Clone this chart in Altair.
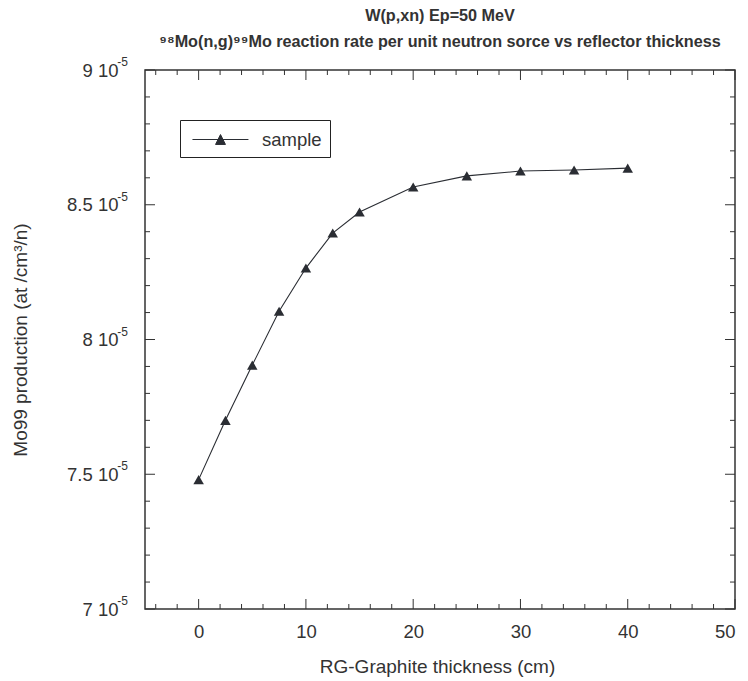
import altair as alt
import pandas as pd

# data
thickness = [0, 2.5, 5, 7.5, 10, 12.5, 15, 20, 25, 30, 35, 40]
production = [7.48e-5, 7.70e-5, 7.905e-5, 8.105e-5, 8.265e-5, 8.395e-5, 8.473e-5,
              8.566e-5, 8.607e-5, 8.625e-5, 8.629e-5, 8.636e-5]
series_name = ["sample"] * len(thickness)

x_major = [0, 10, 20, 30, 40, 50]
x_minor = [-4, -2, 2, 4, 6, 8, 12, 14, 16, 18, 22, 24, 26, 28, 32, 34, 36, 38, 42, 44, 46, 48]
y_major = [7.0e-5, 7.5e-5, 8.0e-5, 8.5e-5, 9.0e-5]
y_minor = [7.1e-5, 7.2e-5, 7.3e-5, 7.4e-5, 7.6e-5, 7.7e-5, 7.8e-5, 7.9e-5,
           8.1e-5, 8.2e-5, 8.3e-5, 8.4e-5, 8.6e-5, 8.7e-5, 8.8e-5, 8.9e-5]
y_exponent = ["-5"] * len(y_major)

W, H = 590, 539
INK = "#2a2d33"
TXT = "#333"
FONT = "Liberation Sans"

df = pd.DataFrame({"t": thickness, "p": production, "s": series_name})
xmaj = pd.DataFrame({"v": x_major})
xmin = pd.DataFrame({"v": x_minor})
ymaj = pd.DataFrame({"v": y_major, "e": y_exponent})
ymin = pd.DataFrame({"v": y_minor})

xscale = alt.Scale(domain=[-5, 50], nice=False, zero=False)
yscale = alt.Scale(domain=[7e-5, 9e-5], nice=False, zero=False)

xaxis = alt.Axis(values=x_major, ticks=False, domain=False, grid=False,
                 labelFontSize=18.5, labelPadding=13, labelColor=TXT,
                 title="RG-Graphite thickness (cm)", titleFontSize=19,
                 titleFontWeight="normal", titleColor=TXT,
                 titleX=W / 2 - 3, titleY=57, titleBaseline="middle", titleAlign="center")
yaxis = alt.Axis(values=y_major, ticks=False, domain=False, grid=False,
                 labelFontSize=18.5, labelPadding=27, labelColor=TXT,
                 labelExpr="format(datum.value*1e5, '.2~f') + ' 10'",
                 title="Mo99 production (at /cm³/n)", titleFontSize=19,
                 titleFontWeight="normal", titleColor=TXT,
                 titleX=-125, titleY=H / 2, titleAngle=-90,
                 titleBaseline="middle", titleAlign="center")

base = alt.Chart(df)

line = base.mark_line(color=INK, strokeWidth=1.1).encode(
    x=alt.X("t:Q", scale=xscale, axis=xaxis),
    y=alt.Y("p:Q", scale=yscale, axis=yaxis),
)

legend_symbol = "M-0.64,0L4.45,0M1.91,-0.45L2.36,0.45L1.46,0.45Z"
points = base.mark_point(shape="triangle-up", filled=True, size=110, opacity=1).encode(
    x=alt.X("t:Q", scale=xscale),
    y=alt.Y("p:Q", scale=yscale),
    color=alt.Color("s:N", scale=alt.Scale(range=[INK]),
                    legend=alt.Legend(title=None, orient="none", legendX=35, legendY=50,
                                      strokeColor="#222", padding=8,
                                      symbolType=legend_symbol, symbolSize=484,
                                      symbolFillColor=INK, symbolStrokeColor=INK,
                                      symbolStrokeWidth=1.0,
                                      labelFontSize=18.5, labelColor=TXT,
                                      labelOffset=51, labelFont=FONT)),
)

exponents = alt.Chart(ymaj).mark_text(align="right", baseline="middle", fontSize=12,
                                      dy=-8, color=TXT, font=FONT).encode(
    y=alt.Y("v:Q", scale=yscale),
    x=alt.value(-17),
    text="e:N",
)

def tick_layer(df_, orient, length):
    c = alt.Chart(df_).mark_rule(color="#333", strokeWidth=1)
    if orient == "bottom":
        return c.encode(x=alt.X("v:Q", scale=xscale), y=alt.value(H), y2=alt.value(H - length))
    if orient == "top":
        return c.encode(x=alt.X("v:Q", scale=xscale), y=alt.value(0), y2=alt.value(length))
    if orient == "left":
        return c.encode(y=alt.Y("v:Q", scale=yscale), x=alt.value(0), x2=alt.value(length))
    return c.encode(y=alt.Y("v:Q", scale=yscale), x=alt.value(W), x2=alt.value(W - length))

ticks = [
    tick_layer(xmaj, "bottom", 10), tick_layer(xmin, "bottom", 5),
    tick_layer(xmaj, "top", 10), tick_layer(xmin, "top", 5),
    tick_layer(ymaj, "left", 10), tick_layer(ymin, "left", 5),
    tick_layer(ymaj, "right", 10), tick_layer(ymin, "right", 5),
]

chart = alt.layer(*ticks, line, points, exponents).properties(
    width=W, height=H,
    padding={"left": 145, "top": 70, "right": 13, "bottom": 72},
    autosize=alt.AutoSizeParams(type="none"),
    title=alt.Title(
        ["W(p,xn) Ep=50 MeV",
         "⁹⁸Mo(n,g)⁹⁹Mo reaction rate per unit neutron sorce vs reflector thickness"],
        fontSize=16.2, fontWeight="bold", font=FONT, color=TXT,
        anchor="middle", lineHeight=26, offset=6),
).configure(font=FONT).configure_view(stroke="#333", strokeWidth=1.5)

chart.save("out.html", embed_options={"renderer": "svg", "actions": False})
